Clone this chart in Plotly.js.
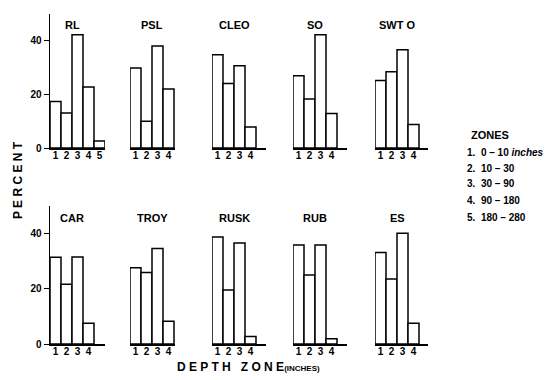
<!DOCTYPE html>
<html><head><meta charset="utf-8">
<script src="https://cdn.plot.ly/plotly-3.0.1.min.js"></script>
<style>html,body{margin:0;padding:0;background:#fff}#chart{width:547px;height:380px}</style>
</head><body><div id="chart"></div>
<script>
// Data (percent of roots by depth zone)
const sites = ['RL','PSL','CLEO','SO','SWT O','CAR','TROY','RUSK','RUB','ES'];
const rl   = [17.3, 13.0, 42.1, 22.7, 2.6];
const psl  = [29.7, 9.9, 37.9, 21.9];
const cleo = [34.7, 24.0, 30.6, 7.8];
const so   = [26.9, 18.2, 42.1, 12.8];
const swto = [25.1, 28.3, 36.5, 8.7];
const car  = [31.3, 21.6, 31.4, 7.5];
const troy = [27.5, 25.8, 34.5, 8.2];
const rusk = [38.6, 19.5, 36.5, 2.7];
const rub  = [35.7, 24.9, 35.7, 1.9];
const es   = [33.0, 23.5, 40.0, 7.5];
const zoneTicks = ['1','2','3','4','5'];
const percentTicks = [0, 20, 40];
const zoneNames = ['ZONES'];
const zoneRanges = ['0 \u2013 10 <i>inches</i>', '10 \u2013 30', '30 \u2013 90', '90 \u2013 180', '180 \u2013 280'];

const series = [rl, psl, cleo, so, swto, car, troy, rusk, rub, es];

const W = 547, H = 380;
const FONT = 'Liberation Sans Narrow, Liberation Sans, Arial, sans-serif';
const barStarts = [50, 130, 212, 293, 375];
const axEnd = [55, 45, 54, 54, 53];
const rows = [{zero:148, top:13.5, titleY:25}, {zero:344, top:205.5, titleY:218}];

const data = [];
const layout = {
  width: W, height: H, margin:{l:0,r:0,t:0,b:0},
  paper_bgcolor:'#fff', plot_bgcolor:'rgba(0,0,0,0)',
  showlegend:false, bargap:0,
  font:{family:FONT, color:'#000'},
  annotations:[]
};

series.forEach((vals, i) => {
  const r = Math.floor(i/5), c = i%5;
  const n = i+1;
  const xs = vals.map((_, k) => k+1);
  data.push({
    type:'bar', x: xs, y: vals, width: 1,
    xaxis: 'x'+n, yaxis: 'y'+n,
    marker:{color:'#fff', line:{color:'#000', width:1.5}},
    hoverinfo:'none'
  });
  const x0 = barStarts[c], x1 = x0 + axEnd[c];
  const nUnits = axEnd[c]/11;
  const row = rows[r];
  layout['xaxis'+n] = {
    domain:[x0/W, x1/W], range:[0.5, 0.5+nUnits], anchor:'y'+n,
    showline:true, linecolor:'#000', linewidth:1.5, showgrid:false, zeroline:false,
    tickvals: xs, ticktext: zoneTicks.slice(0, vals.length),
    ticks:'', ticklabelstandoff:-3, tickfont:{family:FONT, size:10, color:'#000', weight:'bold'},
    fixedrange:true
  };
  const yax = {
    domain:[1-row.zero/H, 1-row.top/H], range:[0,50], anchor:'x'+n,
    showgrid:false, zeroline:false, fixedrange:true
  };
  if (c === 0) {
    Object.assign(yax, {showline:true, linecolor:'#000', linewidth:1.5,
      tickvals: percentTicks, ticks:'outside', ticklen:5, tickwidth:1, tickcolor:'#000',
      tickfont:{family:FONT, size:10, color:'#000', weight:'bold'}});
  } else {
    Object.assign(yax, {visible:false});
  }
  layout['yaxis'+n] = yax;
  layout.annotations.push({
    text:'<b>'+sites[i]+'</b>', xref:'paper', yref:'paper',
    x:(x0+22)/W, y:1-row.titleY/H, showarrow:false,
    font:{family:FONT, size:11, color:'#000'}, xanchor:'center', yanchor:'middle'
  });
});

// axis titles
layout.annotations.push({
  text:'<b>P E R C E N T</b>', xref:'paper', yref:'paper', x:18/W, y:1-180/H,
  textangle:-90, showarrow:false, xanchor:'center', yanchor:'middle',
  font:{family:FONT, size:12, color:'#000'}
});
layout.annotations.push({
  text:'<b>D E P T H   Z O N E</b><b><span style="font-size:8px">(INCHES)</span></b>', xref:'paper', yref:'paper',
  x:248/W, y:1-367/H, showarrow:false, xanchor:'center', yanchor:'middle',
  font:{family:FONT, size:12, color:'#000'}
});
// zone key
layout.annotations.push({
  text:'<b>'+zoneNames[0]+'</b>', xref:'paper', yref:'paper', x:469/W, y:1-135/H,
  xanchor:'left', yanchor:'middle', showarrow:false, font:{family:FONT, size:11, color:'#000'}
});
const keyY = [152, 168, 184, 200, 217];
zoneRanges.forEach((t, k) => {
  layout.annotations.push({
    text:'<b>'+(k+1)+'.  '+t+'</b>', xref:'paper', yref:'paper', x:465/W, y:1-keyY[k]/H,
    xanchor:'left', yanchor:'middle', showarrow:false, font:{family:FONT, size:10, color:'#000'}
  });
});

Plotly.newPlot('chart', data, layout, {displayModeBar:false, staticPlot:true});
</script></body></html>
